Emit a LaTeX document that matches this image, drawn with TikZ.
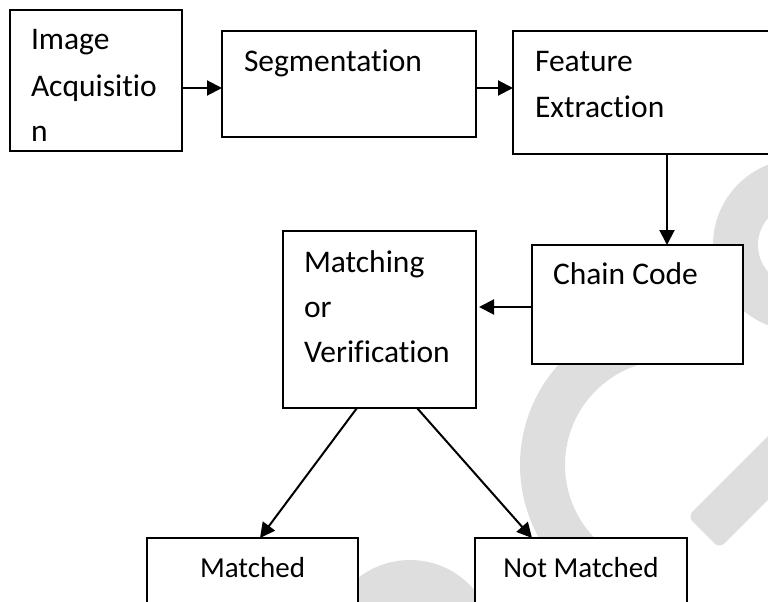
\documentclass[tikz,border=0pt]{standalone}
\usepackage{fontspec}
\setmainfont{Carlito}[Ligatures=NoCommon]
\usetikzlibrary{arrows.meta,calc}
\definecolor{wmgray}{RGB}{222,222,222}
\tikzset{
  box/.style={draw=black, line width=2pt, fill=white, inner sep=0pt, outer sep=0pt, anchor=north west},
  lbl/.style={inner sep=0pt, outer sep=0pt, anchor=base west, font=\fontsize{31.5}{36}\selectfont},
  lblc/.style={inner sep=0pt, outer sep=0pt, anchor=base, font=\fontsize{29}{34}\selectfont},
  arr/.style={line width=2pt, -{Triangle[length=15pt,width=15pt]}},
  wmring/.style={draw=wmgray, line width=45pt},
}
\begin{document}
\begin{tikzpicture}[x=1pt,y=-1pt]
\useasboundingbox (0,0) rectangle (768,602);
\begin{scope}
\clip (0,0) rectangle (768,602);
% light grey background mark
\draw[wmring] (799,245) circle[radius=63.5];
\draw[wmring] (670,465) ++(-95:127.5) arc[start angle=-95, end angle=-250, radius=127.5];
\fill[wmgray] (410,644) circle[radius=84];
\fill[wmgray, rounded corners=7pt] (687.6,516.6) -- (837.6,366.6) -- (869.4,398.4) -- (719.4,548.4) -- cycle;

% process boxes
\node[box, minimum width=172pt, minimum height=141pt] (acq) at (10,10) {};
\node[box, minimum width=254pt, minimum height=106pt] (seg) at (222,31) {};
\node[box, minimum width=270pt, minimum height=123pt] (feat) at (513,31) {};
\node[box, minimum width=211pt, minimum height=119pt] (chain) at (532,245) {};
\node[box, minimum width=193pt, minimum height=177pt] (match) at (283,231) {};
\node[box, minimum width=211pt, minimum height=80pt] (matched) at (147,538) {};
\node[box, minimum width=212pt, minimum height=80pt] (notm) at (475,538) {};

% box texts
\node[lbl] (acqA) at (31,50) {Image};
\node[lbl] (acqB) at (31,96) {Acquisitio};
\node[lbl] (acqC) at (31,141) {n};
\node[lbl] (segA) at (244,71) {Segmentation};
\node[lbl] (featA) at (535,71) {Feature};
\node[lbl] (featB) at (535,117) {Extraction};
\node[lbl] (chainA) at (553,284) {Chain Code};
\node[lbl] (matchA) at (304,272) {Matching};
\node[lbl] (matchB) at (304,317) {or};
\node[lbl] (matchC) at (304,362) {Verification};
\node[lblc] (matchedA) at (252.5,577) {Matched};
\node[lblc] (notmA) at (581,577) {Not Matched};

% connectors
\draw[arr] ($(acq.east)+(0,7.5)$) -- ($(acq.east -| seg.west)+(0,7.5)$);
\draw[arr] ($(seg.east)+(0,4)$) -- ($(seg.east -| feat.west)+(0,4)$);
\coordinate (fcTop) at ($(chain.north)+(29.5,0)$);
\draw[arr] (feat.south -| fcTop) -- (fcTop);
\coordinate (cmStart) at ($(chain.west)+(0,2.5)$);
\draw[arr] (cmStart) -- ($(match.east |- cmStart)+(3,0)$);
\draw[arr] ($(match.south)+(-22.5,0)$) -- ($(matched.north)+(7.5,0)$);
\draw[arr] ($(match.south)+(37.5,0)$) -- ($(notm.north)+(-49,0)$);
\end{scope}
\end{tikzpicture}
\end{document}
